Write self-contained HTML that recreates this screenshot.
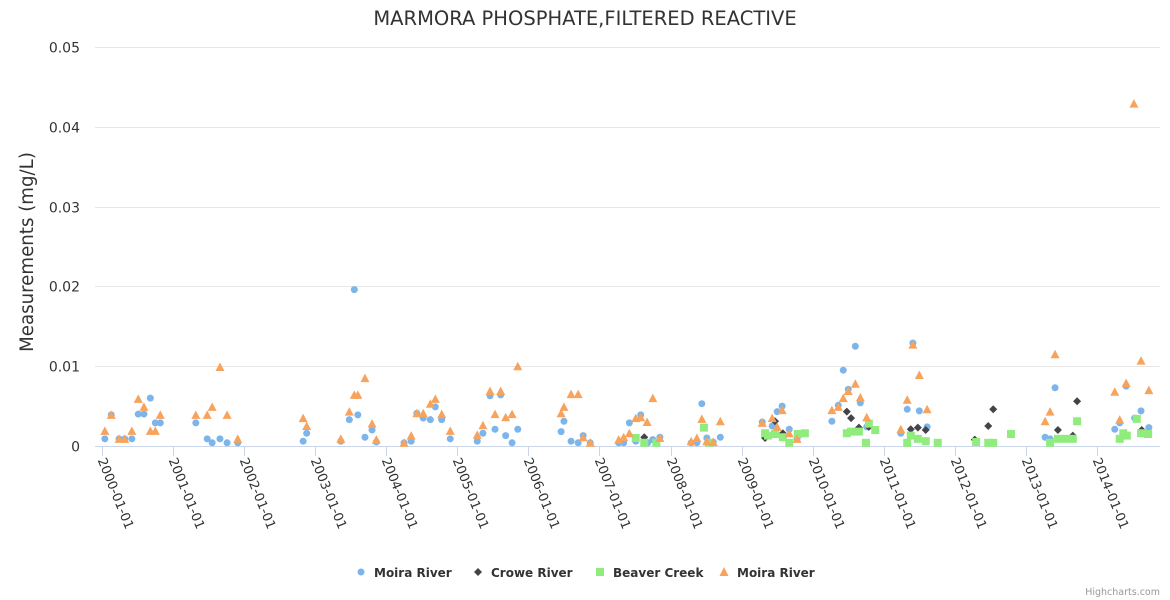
<!DOCTYPE html>
<html><head><meta charset="utf-8"><style>
html,body{margin:0;padding:0;background:#fff;}
svg{display:block;font-family:"DejaVu Sans","Liberation Sans",sans-serif;}
</style></head><body>
<svg id="chart" width="1170" height="600">
<text x="585" y="25" text-anchor="middle" font-size="19.5" fill="#333">MARMORA PHOSPHATE,FILTERED REACTIVE</text>
<text transform="translate(33,252) rotate(-90)" text-anchor="middle" font-size="18.2" fill="#333">Measurements (mg/L)</text>
<g id="grid"></g><g id="xaxis"></g><g id="marks"></g>
<g font-size="12" font-weight="bold" fill="#333">
 <g><circle cx="361" cy="572" r="3.5" fill="#7cb5ec"/><text x="374" y="577">Moira River</text></g>
 <g><path d="M478 568 L482 572 L478 576 L474 572Z" fill="#434348"/><text x="491" y="577">Crowe River</text></g>
 <g><rect x="596" y="568" width="8" height="8" fill="#90ed7d"/><text x="613" y="577">Beaver Creek</text></g>
 <g><path d="M724 567 L728.5 576 L719.5 576Z" fill="#f7a35c"/><text x="737" y="577">Moira River</text></g>
</g>
<text x="1160" y="595" text-anchor="end" font-size="9.5" fill="#999">Highcharts.com</text>
</svg>
<script>
const yTicks = [0, 0.01, 0.02, 0.03, 0.04, 0.05];
const yTickLabels = ["0", "0.01", "0.02", "0.03", "0.04", "0.05"];
const xTickYears = [0,1,2,3,4,5,6,7,8,9,10,11,12,13,14];
const xTickLabels = ["2000-01-01","2001-01-01","2002-01-01","2003-01-01","2004-01-01","2005-01-01","2006-01-01","2007-01-01","2008-01-01","2009-01-01","2010-01-01","2011-01-01","2012-01-01","2013-01-01","2014-01-01"];
// years since 2000-01-01 and values (mg/L)
const moiraYears = [0.04,0.13,0.24,0.32,0.42,0.51,0.59,0.68,0.75,0.82,1.32,1.48,1.55,1.66,1.76,1.91,2.83,2.88,3.36,3.48,3.55,3.60,3.70,3.80,3.86,4.25,4.35,4.43,4.52,4.62,4.69,4.78,4.90,5.28,5.36,5.46,5.53,5.61,5.68,5.77,5.85,6.46,6.50,6.60,6.70,6.77,6.87,7.27,7.34,7.42,7.51,7.58,7.68,7.75,7.85,8.29,8.37,8.44,8.51,8.60,8.70,9.29,9.43,9.50,9.57,9.67,9.78,10.27,10.36,10.43,10.50,10.60,10.67,10.76,11.24,11.33,11.41,11.50,11.61,13.27,13.34,13.41,14.25,14.32,14.41,14.53,14.62,14.73];
const moiraValues = [0.0009,0.0039,0.0009,0.0009,0.0009,0.004,0.004,0.006,0.0029,0.0029,0.0029,0.0009,0.0004,0.0009,0.0004,0.0004,0.0006,0.0016,0.0006,0.0033,0.0196,0.0039,0.0011,0.002,0.0005,0.0004,0.0006,0.0041,0.0035,0.0033,0.0049,0.0033,0.0009,0.0006,0.0016,0.0063,0.0021,0.0064,0.0013,0.0004,0.0021,0.0018,0.0031,0.0006,0.0004,0.0013,0.0004,0.0004,0.0004,0.0029,0.0006,0.0039,0.0004,0.0008,0.0011,0.0004,0.0004,0.0053,0.001,0.0005,0.0011,0.003,0.0025,0.0043,0.005,0.0021,0.0009,0.0031,0.0051,0.0095,0.0071,0.0125,0.0054,0.0024,0.0016,0.0046,0.0129,0.0044,0.0024,0.0011,0.0009,0.0073,0.0021,0.0029,0.0075,0.0035,0.0044,0.0023];
const croweYears = [7.63,9.33,9.47,9.58,10.48,10.54,10.65,10.79,11.38,11.48,11.59,12.28,12.47,12.54,13.45,13.66,13.72,14.63];
const croweValues = [0.0011,0.001,0.0031,0.0016,0.0043,0.0035,0.0023,0.0024,0.0021,0.0023,0.002,0.0008,0.0025,0.0046,0.002,0.0013,0.0056,0.002];
const beaverYears = [7.51,7.63,7.80,8.47,8.54,9.33,9.37,9.47,9.58,9.67,9.79,9.89,10.48,10.54,10.65,10.75,10.79,10.88,11.33,11.38,11.48,11.59,11.76,12.30,12.47,12.54,12.79,13.34,13.45,13.55,13.66,13.72,14.32,14.37,14.42,14.56,14.62,14.72];
const beaverValues = [0.001,0.0004,0.0004,0.0023,0.0004,0.0016,0.0013,0.0015,0.0011,0.0004,0.0015,0.0016,0.0016,0.0018,0.0018,0.0004,0.0028,0.002,0.0004,0.0013,0.0009,0.0006,0.0004,0.0005,0.0004,0.0004,0.0015,0.0004,0.0009,0.0009,0.0009,0.0031,0.0009,0.0016,0.0013,0.0034,0.0016,0.0015];
const moira2Years = [0.04,0.13,0.24,0.32,0.42,0.51,0.59,0.68,0.75,0.82,1.32,1.48,1.55,1.66,1.76,1.91,2.83,2.88,3.36,3.48,3.55,3.60,3.70,3.80,3.86,4.25,4.35,4.43,4.52,4.62,4.69,4.78,4.90,5.28,5.36,5.46,5.53,5.61,5.68,5.77,5.85,6.46,6.50,6.60,6.70,6.77,6.87,7.27,7.34,7.42,7.51,7.58,7.67,7.75,7.85,8.29,8.37,8.44,8.51,8.60,8.70,9.29,9.43,9.50,9.57,9.67,9.78,10.27,10.36,10.43,10.50,10.60,10.67,10.76,11.24,11.33,11.41,11.50,11.61,13.27,13.34,13.41,14.25,14.32,14.41,14.52,14.62,14.73];
const moira2Values = [0.0019,0.0039,0.0009,0.0009,0.0019,0.0059,0.0049,0.0019,0.0019,0.0039,0.0039,0.0039,0.0049,0.0099,0.0039,0.0009,0.0035,0.0025,0.0009,0.0043,0.0064,0.0064,0.0085,0.0028,0.0008,0.0004,0.0013,0.0041,0.0041,0.0053,0.0059,0.004,0.0019,0.0014,0.0026,0.0069,0.004,0.0069,0.0036,0.004,0.01,0.0041,0.0049,0.0065,0.0065,0.0011,0.0004,0.0008,0.0011,0.0016,0.0035,0.0036,0.003,0.006,0.001,0.0006,0.001,0.0034,0.0006,0.0005,0.0031,0.0029,0.0035,0.0024,0.0045,0.0016,0.0009,0.0045,0.0049,0.006,0.0069,0.0078,0.0061,0.0036,0.0021,0.0058,0.0127,0.0089,0.0046,0.0031,0.0043,0.0115,0.0068,0.0033,0.0079,0.0429,0.0107,0.007];

const NS = "http://www.w3.org/2000/svg";
const xPos = yr => 102 + yr * 71.07;
const yPos = v => 446 - v * 7980;
function mk(tag, attrs, parent){const e=document.createElementNS(NS,tag);for(const k in attrs)e.setAttribute(k,attrs[k]);parent.appendChild(e);return e;}
const grid=document.getElementById('grid'), xa=document.getElementById('xaxis'), marks=document.getElementById('marks');
yTicks.forEach((t,i)=>{
  const y=Math.round(yPos(t))+0.5;
  if(i>0){const l=mk('line',{x1:95,x2:1160,y1:y,y2:y,stroke:'#e6e6e6'},grid);
  
  }
  const tx=mk('text',{x:80,y:y+5,'text-anchor':'end','font-size':14,fill:'#333'},grid);
  tx.textContent=yTickLabels[i];
  
  
});
const ax=mk('line',{x1:95,x2:1160,y1:446.5,y2:446.5,stroke:'#ccd6eb'},xa);


xTickYears.forEach((yr,i)=>{
  const x=Math.round(xPos(yr))+0.5;
  const t=mk('line',{x1:x,x2:x,y1:446,y2:456,stroke:'#ccd6eb'},xa);
  
  
  const tx=mk('text',{transform:`translate(${x-5},${460}) rotate(68)`,'font-size':13,fill:'#333'},xa);
  tx.textContent=xTickLabels[i];
  
  
});
function series(years,vals,shape,color,name){
  years.forEach((yr,i)=>{
    const x=xPos(yr), y=yPos(vals[i]); let e;
    if(shape==='circle') e=mk('circle',{cx:x,cy:y,r:3.5,fill:color},marks);
    else if(shape==='diamond') e=mk('path',{d:`M${x} ${y-4}L${x+4} ${y}L${x} ${y+4}L${x-4} ${y}Z`,fill:color},marks);
    else if(shape==='square') e=mk('rect',{x:x-4,y:y-4,width:8,height:8,fill:color},marks);
    else e=mk('path',{d:`M${x} ${y-4.5}L${x+4.5} ${y+4}L${x-4.5} ${y+4}Z`,fill:color},marks);
    
    
  });
}
series(moiraYears,moiraValues,'circle','#7cb5ec','moira-river-point');
series(croweYears,croweValues,'diamond','#434348','crowe-river-point');
series(beaverYears,beaverValues,'square','#90ed7d','beaver-creek-point');
series(moira2Years,moira2Values,'triangle','#f7a35c','moira-river-2-point');
</script>
</body></html>
